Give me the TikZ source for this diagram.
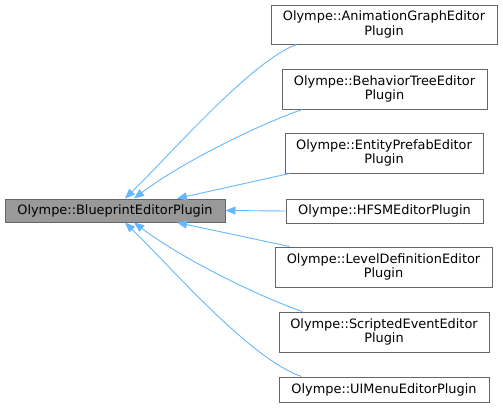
\documentclass[tikz,border=0pt]{standalone}
\usepackage{fontspec}
\setmainfont{DejaVu Sans}
\usetikzlibrary{arrows.meta}
\definecolor{edgeblue}{HTML}{63B8FF}
\definecolor{boxborder}{HTML}{666666}
\definecolor{basefill}{HTML}{999999}
\begin{document}
\begin{tikzpicture}[x=1pt,y=-1pt,
  cls/.style={draw=boxborder, fill=white, line width=1pt, inner sep=0pt, align=center,
    font=\fontsize{12.9}{14.5}\selectfont},
  basecls/.style={cls, fill=basefill},
  inh/.style={draw=edgeblue, line width=0.9pt, -{Triangle[length=10pt,width=8pt]}}]
\useasboundingbox (0,0) rectangle (503,407);
\node[basecls, minimum width=220pt, minimum height=23pt] (base) at (115,210.5) {Olympe::BlueprintEditorPlugin};
\node[cls, minimum width=226pt, minimum height=39pt] (a1) at (384,24.5) {Olympe::AnimationGraphEditor\\Plugin};
\node[cls, minimum width=205pt, minimum height=40pt] (a2) at (384.5,89) {Olympe::BehaviorTreeEditor\\Plugin};
\node[cls, minimum width=198pt, minimum height=40pt] (a3) at (384,153) {Olympe::EntityPrefabEditor\\Plugin};
\node[cls, minimum width=197pt, minimum height=24pt] (a4) at (384.5,211) {Olympe::HFSMEditorPlugin};
\node[cls, minimum width=217pt, minimum height=40pt] (a5) at (383.5,267) {Olympe::LevelDefinitionEditor\\Plugin};
\node[cls, minimum width=210pt, minimum height=40pt] (a6) at (384,332) {Olympe::ScriptedEventEditor\\Plugin};
\node[cls, minimum width=210pt, minimum height=25pt] (a7) at (384,389.5) {Olympe::UIMenuEditorPlugin};
\draw[inh] ([xshift=26pt]a1.south west) .. controls (250,62) and (170,155) .. ([xshift=10pt]base.north);
\draw[inh] ([xshift=21pt]a2.south west) .. controls (265,122) and (185,160) .. ([xshift=19pt]base.north);
\draw[inh] ([xshift=5pt]a3.south west) -- ([xshift=62pt]base.north);
\draw[inh] (a4.west) -- (base.east);
\draw[inh] ([xshift=15pt]a5.north west) -- ([xshift=62pt]base.south);
\draw[inh] ([xshift=24pt]a6.north west) .. controls (265,299) and (185,261) .. ([xshift=19pt]base.south);
\draw[inh] ([xshift=23pt]a7.north west) .. controls (250,359) and (170,266) .. ([xshift=10pt]base.south);
\end{tikzpicture}
\end{document}
